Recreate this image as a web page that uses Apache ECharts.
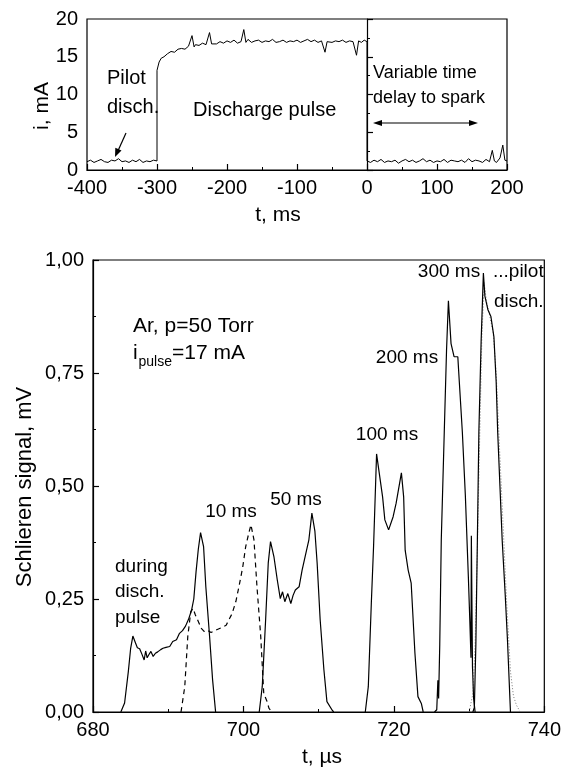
<!DOCTYPE html>
<html><head><meta charset="utf-8">
<script src="https://cdn.jsdelivr.net/npm/echarts@6/dist/echarts.min.js"></script>
<style>html,body{margin:0;padding:0;background:#fff}#c{width:564px;height:777px}</style>
</head><body><div id="c"></div>
<script>
// ---- Top panel: discharge current i (mA) vs t (ms)
const topT = [-400,-395,-390,-385,-380,-375,-370,-365,-360,-355,-350,-345,-340,-335,-330,-325,-320,-315,-310,-305,-300,
  -300,-297,-294,-290,-285,-280,-275,-270,-265,-260,-255,-250,-247,-245,-240,-235,-230,-225,-222,-220,-215,-210,-205,-200,
  -195,-190,-185,-180,-176,-173,-170,-165,-160,-155,-150,-145,-140,-135,-130,-125,-120,-115,-110,-105,-100,-95,-90,-85,-80,
  -75,-70,-65,-60,-57,-55,-50,-45,-40,-35,-30,-25,-20,-15,-12,-8,-4,0,
  0,5,10,15,20,25,30,35,40,45,50,55,60,65,70,75,80,85,90,95,100,105,110,115,120,125,130,135,140,145,150,155,160,165,170,175,
  179,182,185,190,194,197,200];
const topI = [1.1,1.3,1.0,1.2,1.4,1.1,1.0,1.3,1.2,1.5,1.1,1.2,1.0,1.3,1.1,1.4,1.0,1.2,1.1,1.3,1.2,
  13.2,14.3,14.8,15.0,15.4,15.7,15.6,16.0,16.1,16.0,16.4,17.8,16.3,16.6,16.5,16.8,16.6,18.2,16.7,16.9,16.7,17.0,16.8,17.1,
  16.9,17.2,16.8,17.0,18.6,16.9,17.3,16.9,17.1,17.2,16.9,17.1,17.0,17.3,16.9,17.0,17.2,16.9,17.1,17.0,17.2,16.9,17.1,17.3,17.0,
  17.2,16.9,17.1,15.6,17.0,17.2,16.9,17.1,17.0,17.2,16.9,17.1,17.0,15.2,17.1,16.9,17.2,17.0,
  1.2,1.0,1.3,1.1,1.4,1.0,1.2,1.1,1.3,0.9,1.2,1.4,1.1,1.3,1.0,1.2,1.5,1.1,1.3,1.0,1.2,1.1,1.4,1.0,1.3,1.2,1.1,1.3,1.0,1.5,1.1,1.3,1.2,1.0,1.4,1.1,
  2.6,1.2,1.0,1.6,3.3,1.3,1.2];
const topXTicks = [-400,-300,-200,-100,0,100,200];
const topYTicks = [0,5,10,15,20];

// ---- Bottom panel: Schlieren signal (mV) vs t (µs)
const pulseT = [683.7,684.2,684.7,685.0,685.3,685.6,685.9,686.2,686.5,686.8,687.0,687.2,687.4,687.7,688.0,688.3,688.6,689.0,689.3,689.7,690.2,690.6,691.1,691.5,691.9,692.3,692.7,693.1,693.4,693.7,694.0,694.3,694.7,695.0,695.5,695.9,696.3];
const pulseV = [0,0.02,0.09,0.14,0.168,0.155,0.142,0.14,0.128,0.115,0.135,0.12,0.126,0.134,0.123,0.13,0.133,0.138,0.141,0.143,0.145,0.156,0.16,0.174,0.18,0.19,0.205,0.225,0.25,0.31,0.36,0.397,0.366,0.277,0.167,0.071,0];
const ms10T = [691.7,692.2,692.6,693.0,693.3,693.6,693.9,694.4,694.8,695.2,695.7,696.3,697.0,697.7,698.5,699.0,699.4,699.9,700.3,700.7,701.0,701.4,701.8,702.3,702.7,703.1,703.4,703.8];
const ms10V = [0,0.056,0.167,0.222,0.229,0.215,0.204,0.185,0.178,0.181,0.176,0.181,0.186,0.192,0.218,0.245,0.277,0.32,0.366,0.395,0.414,0.381,0.277,0.167,0.041,0.025,0.008,0];
const ms50T = [702.1,702.5,702.95,703.3,703.6,704.05,704.5,704.9,705.2,705.5,705.9,706.3,706.6,706.9,707.4,707.8,708.2,708.7,709.1,709.5,709.8,710.2,710.7,711.1,711.8,712.0];
const ms50V = [0,0.056,0.204,0.33,0.377,0.344,0.292,0.251,0.266,0.244,0.262,0.24,0.258,0.27,0.277,0.314,0.344,0.381,0.44,0.4,0.329,0.204,0.093,0.023,0.004,0];
const ms100T = [716.2,716.6,717.0,717.3,717.7,718.0,718.5,718.8,719.3,719.9,720.3,721.0,721.3,721.5,721.9,722.3,722.8,723.2,723.65,723.9];
const ms100V = [0,0.056,0.24,0.366,0.571,0.535,0.476,0.425,0.403,0.432,0.462,0.529,0.476,0.358,0.314,0.285,0.13,0.034,0.019,0];
const ms200T = [725.4,725.7,725.85,725.95,726.1,726.3,726.7,727.0,727.25,727.6,728.0,728.2,728.5,728.7,729.1,729.5,729.9,730.1,730.25,730.3,730.45,730.6,730.8];
const ms200V = [0,0.005,0.07,0.03,0.15,0.38,0.62,0.8,0.91,0.815,0.786,0.79,0.786,0.73,0.62,0.48,0.3,0.2,0.12,0.39,0.1,0.03,0];
const ms300T = [730.5,730.7,730.9,731.1,731.3,731.6,731.9,732.1,732.5,732.9,733.3,733.6,733.8,734.1,734.4,734.8,735.1,735.5];
const ms300V = [0,0.01,0.15,0.38,0.62,0.82,0.971,0.92,0.89,0.875,0.83,0.73,0.62,0.5,0.38,0.26,0.16,0];
const pilotT = [730.0,730.5,730.8,731.1,731.4,731.7,732.0,732.3,732.7,733.2,733.6,734.0,734.5,735.0,735.5,735.9,736.3,736.8];
const pilotV = [0,0.04,0.15,0.36,0.6,0.83,0.95,0.91,0.88,0.84,0.75,0.6,0.42,0.24,0.09,0.035,0.015,0];
const botXTicks = [680,700,720,740];
const botYTicks = [0,0.25,0.5,0.75,1.0];

const FONT = '"Liberation Sans", Arial, sans-serif';
const zip = (a,b) => a.map((v,i)=>[v,b[i]]);

function xAx(grid, ticks, minorSplit){
  return {type:'value', gridIndex:grid, min:ticks[0], max:ticks[ticks.length-1], interval:ticks[1]-ticks[0],
    axisLine:{show:true,lineStyle:{color:'#000',width:1.2}},
    axisTick:{show:true,inside:true,length:6,lineStyle:{color:'#000',width:1.2}},
    minorTick:{show:true,splitNumber:minorSplit,length:3,lineStyle:{color:'#000',width:1}},
    splitLine:{show:false}, minorSplitLine:{show:false},
    axisLabel:{color:'#000',fontSize:20,fontFamily:FONT,margin:8,showMinLabel:true,showMaxLabel:true}};
}
function yAx(grid, ticks, fmt){
  return {type:'value', gridIndex:grid, min:ticks[0], max:ticks[ticks.length-1], interval:ticks[1]-ticks[0],
    axisLine:{show:true,lineStyle:{color:'#000',width:1.2}},
    axisTick:{show:true,inside:true,length:6,lineStyle:{color:'#000',width:1.2}},
    minorTick:{show:true,splitNumber:2,length:3,lineStyle:{color:'#000',width:1}},
    splitLine:{show:false}, minorSplitLine:{show:false},
    axisLabel:{color:'#000',fontSize:20,fontFamily:FONT,margin:9,formatter:fmt,showMinLabel:true,showMaxLabel:true}};
}
function ser(xi, T, V, style){
  return {type:'line', xAxisIndex:xi, yAxisIndex:xi, data:zip(T,V), showSymbol:false, symbol:'none',
    lineStyle:Object.assign({color:'#000',width:1.2}, style||{}), animation:false, silent:true, z:3};
}
function txt(x,y,s,size,opt){
  return Object.assign({type:'text', x:x, y:y, z:10, style:Object.assign({text:s, fill:'#000', font:size+'px '+FONT,
    textAlign:'left', textVerticalAlign:'middle'}, (opt&&opt.style)||{})}, opt&&opt.rotation!==undefined?{rotation:opt.rotation}:{});
}

const chart = echarts.init(document.getElementById('c'), null, {renderer:'canvas'});
chart.setOption({
  backgroundColor:'#fff',
  animation:false,
  grid:[
    {left:87, top:19, width:420, height:151, show:true, borderColor:'#000', borderWidth:1.2, backgroundColor:'transparent'},
    {left:93, top:260, width:454, height:452, show:true, borderColor:'#000', borderWidth:1.2, backgroundColor:'transparent'}
  ],
  xAxis:[ xAx(0, topXTicks, 2), xAx(1, botXTicks, 2) ],
  yAxis:[ yAx(0, topYTicks, v=>String(v)), yAx(1, botYTicks, v=>v.toFixed(2).replace('.', ',')) ],
  series:[
    ser(0, topT, topI, {width:1}),
    ser(1, pilotT, pilotV, {color:'#777', width:1, type:[1,2]}),
    ser(1, pulseT, pulseV),
    ser(1, ms10T, ms10V, {type:[5,4]}),
    ser(1, ms50T, ms50V),
    ser(1, ms100T, ms100V),
    ser(1, ms200T, ms200V),
    ser(1, ms300T, ms300V)
  ],
  graphic:[
    // top panel annotations
    txt(107, 78, 'Pilot', 20),
    txt(107, 107, 'disch.', 20),
    txt(193, 110, 'Discharge pulse', 20),
    txt(373, 73, 'Variable time', 18),
    txt(373, 98, 'delay to spark', 18),
    {type:'line', z:10, shape:{x1:376,y1:123,x2:475,y2:123}, style:{stroke:'#000',lineWidth:1.2}},
    {type:'polygon', z:10, shape:{points:[[373,123],[382,120],[382,126]]}, style:{fill:'#000'}},
    {type:'polygon', z:10, shape:{points:[[478,123],[469,120],[469,126]]}, style:{fill:'#000'}},
    {type:'line', z:10, shape:{x1:126,y1:133,x2:117,y2:153}, style:{stroke:'#000',lineWidth:1.2}},
    {type:'polygon', z:10, shape:{points:[[115,157],[121.5,150.5],[115.3,147.8]]}, style:{fill:'#000'}},
    txt(278, 215, 't, ms', 21, {style:{textAlign:'center'}}),
    txt(42, 106, 'i, mA', 21, {rotation:Math.PI/2, style:{textAlign:'center'}}),
    // bottom panel annotations
    txt(133, 326, 'Ar, p=50 Torr', 21),
    txt(133, 353, 'i', 21),
    txt(138.5, 362, 'pulse', 14),
    txt(172, 353, '=17 mA', 21),
    txt(231, 512, '10 ms', 19, {style:{textAlign:'center'}}),
    txt(296, 500, '50 ms', 19, {style:{textAlign:'center'}}),
    txt(387, 435, '100 ms', 19, {style:{textAlign:'center'}}),
    txt(407, 358, '200 ms', 19, {style:{textAlign:'center'}}),
    txt(449, 272, '300 ms', 19, {style:{textAlign:'center'}}),
    txt(493, 272, '...pilot', 19),
    txt(494, 302, 'disch.', 19),
    txt(115, 567, 'during', 19),
    txt(115, 592, 'disch.', 19),
    txt(115, 618, 'pulse', 19),
    txt(322, 757, 't, \u00b5s', 21, {style:{textAlign:'center'}}),
    txt(25, 487, 'Schlieren signal, mV', 22, {rotation:Math.PI/2, style:{textAlign:'center'}})
  ]
});
</script></body></html>
